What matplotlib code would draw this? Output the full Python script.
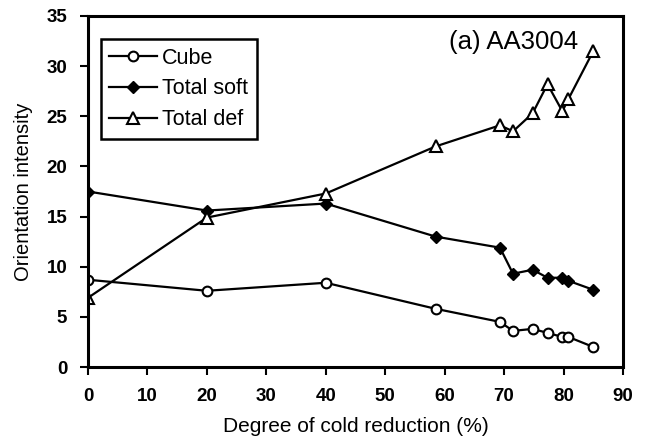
import matplotlib.pyplot as plt

plt.rcParams['font.family'] = ['Liberation Sans', 'DejaVu Sans']

# cold reduction (%) for each sample
reduction = [0, 20, 40, 58.5, 69.3, 71.5, 74.8, 77.3, 79.8, 80.8, 85.0]

cube = [8.7, 7.6, 8.4, 5.8, 4.5, 3.6, 3.8, 3.4, 3.0, 3.0, 2.0]
total_soft = [17.5, 15.6, 16.3, 13.0, 11.9, 9.3, 9.7, 8.9, 8.9, 8.6, 7.7]
total_def = [6.9, 14.9, 17.3, 22.0, 24.1, 23.5, 25.3, 28.2, 25.5, 26.7, 31.5]

fig = plt.figure(figsize=(6.47, 4.43), dpi=100)
ax = fig.add_axes([88 / 647, 1 - 367 / 443, 535 / 647, 351 / 443])

ax.plot(reduction, cube, color='black', lw=1.6, marker='o', ms=7,
        mfc='white', mec='black', mew=1.5, label='Cube')
ax.plot(reduction, total_soft, color='black', lw=1.6, marker='D', ms=6.5,
        mfc='black', mec='black', label='Total soft')
ax.plot(reduction, total_def, color='black', lw=1.6, marker='^', ms=8,
        mfc='white', mec='black', mew=1.5, label='Total def')

ax.set_xlim(0, 90)
ax.set_ylim(0, 35)
ax.set_xticks(range(0, 91, 10))
ax.set_yticks(range(0, 36, 5))
ax.tick_params(direction='out', length=6, width=1.5, labelsize=13.5)
ax.tick_params(axis='x', pad=9)
ax.tick_params(axis='y', pad=9)
for lab in ax.get_xticklabels() + ax.get_yticklabels():
    lab.set_fontweight('bold')
for sp in ax.spines.values():
    sp.set_linewidth(2.2)

ax.set_xlabel('Degree of cold reduction (%)', fontsize=15, labelpad=9)
ax.set_ylabel('Orientation intensity', fontsize=14.5, labelpad=10)

ax.text(0.916, 0.906, '(a) AA3004', transform=ax.transAxes, ha='right',
        va='baseline', fontsize=18.5)

leg = ax.legend(loc='upper left', bbox_to_anchor=(0.024, 0.934), fontsize=15.5,
                fancybox=False, framealpha=1, edgecolor='black',
                handlelength=2.2, borderpad=0.4, labelspacing=0.45,
                handletextpad=0.25, borderaxespad=0)
leg.get_frame().set_linewidth(1.8)

fig.savefig('out.png', dpi=100)
